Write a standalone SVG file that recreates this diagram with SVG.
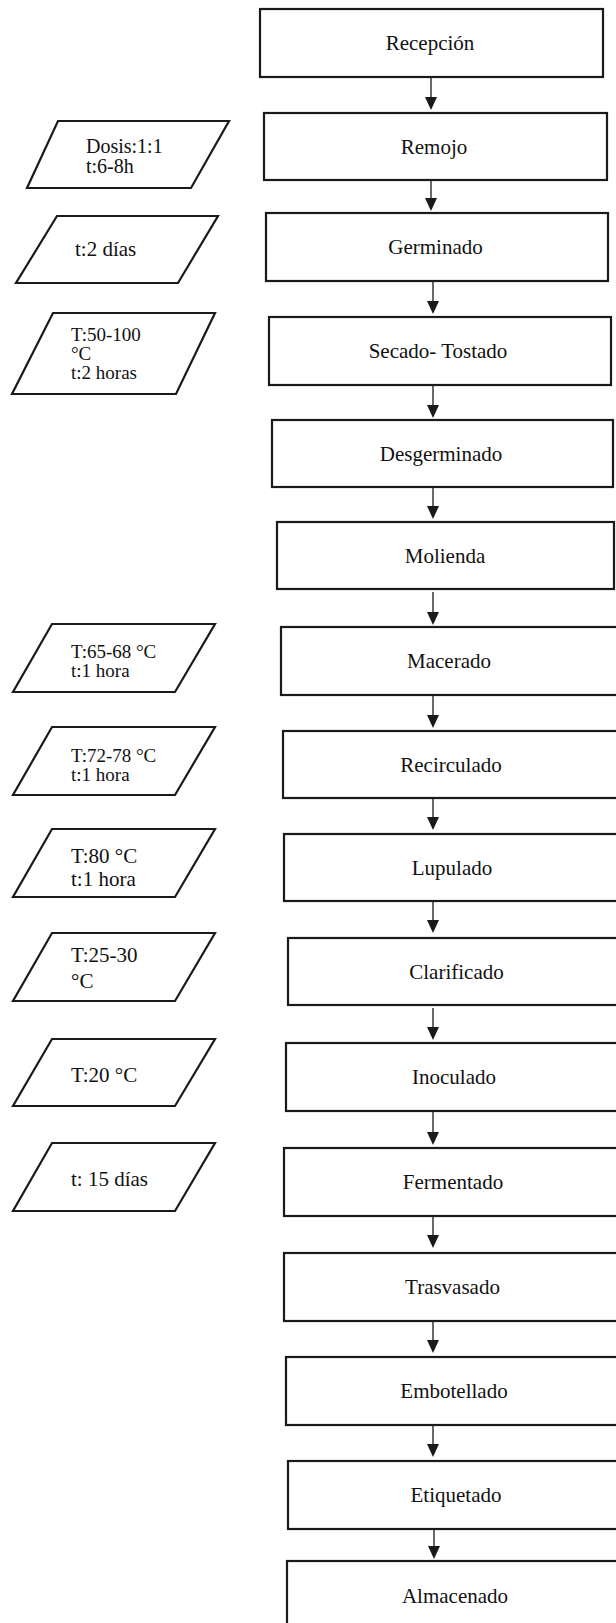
<svg xmlns="http://www.w3.org/2000/svg" width="616" height="1623" viewBox="0 0 616 1623">
<style>
  .box { fill: #ffffff; stroke: #1a1a1a; stroke-width: 2.2; }
  .para { fill: #ffffff; stroke: #1a1a1a; stroke-width: 2.2; stroke-linejoin: miter; }
  .lbl { font-family: "Liberation Serif", "Times New Roman", serif; font-size: 21px; fill: #111111; text-anchor: middle; }
  .side { font-family: "Liberation Serif", "Times New Roman", serif; fill: #111111; }
  .conn { stroke: #1a1a1a; stroke-width: 1.3; fill: none; }
  .head { fill: #1a1a1a; }
</style>
<rect width="616" height="1623" fill="#ffffff"/>

<g id="connectors">
  <line class="conn" x1="431" y1="77" x2="431" y2="98"/><path class="head" d="M425,97 L437,97 L431,110 Z"/>
  <line class="conn" x1="431" y1="180" x2="431" y2="199"/><path class="head" d="M425,198 L437,198 L431,211 Z"/>
  <line class="conn" x1="433" y1="281" x2="433" y2="302"/><path class="head" d="M427,301 L439,301 L433,314 Z"/>
  <line class="conn" x1="433" y1="385" x2="433" y2="406"/><path class="head" d="M427,405 L439,405 L433,418 Z"/>
  <line class="conn" x1="433" y1="487" x2="433" y2="507"/><path class="head" d="M427,506 L439,506 L433,519 Z"/>
  <line class="conn" x1="433" y1="592" x2="433" y2="613"/><path class="head" d="M427,612 L439,612 L433,625 Z"/>
  <line class="conn" x1="433" y1="695" x2="433" y2="716"/><path class="head" d="M427,715 L439,715 L433,728 Z"/>
  <line class="conn" x1="433" y1="798" x2="433" y2="818"/><path class="head" d="M427,817 L439,817 L433,830 Z"/>
  <line class="conn" x1="433" y1="901" x2="433" y2="921"/><path class="head" d="M427,920 L439,920 L433,933 Z"/>
  <line class="conn" x1="433" y1="1008" x2="433" y2="1028"/><path class="head" d="M427,1027 L439,1027 L433,1040 Z"/>
  <line class="conn" x1="433" y1="1111" x2="433" y2="1133"/><path class="head" d="M427,1132 L439,1132 L433,1145 Z"/>
  <line class="conn" x1="433" y1="1216" x2="433" y2="1236"/><path class="head" d="M427,1235 L439,1235 L433,1248 Z"/>
  <line class="conn" x1="433" y1="1321" x2="433" y2="1341"/><path class="head" d="M427,1340 L439,1340 L433,1353 Z"/>
  <line class="conn" x1="433" y1="1425" x2="433" y2="1445"/><path class="head" d="M427,1444 L439,1444 L433,1457 Z"/>
  <line class="conn" x1="434" y1="1529" x2="434" y2="1547"/><path class="head" d="M428,1546 L440,1546 L434,1559 Z"/>
</g>

<g id="recepcion"><rect class="box" x="260" y="9" width="343" height="68"/><text class="lbl" x="430" y="50">Recepción</text></g>
<g id="remojo"><rect class="box" x="264" y="113" width="343" height="67"/><text class="lbl" x="434" y="153.5">Remojo</text></g>
<g id="germinado"><rect class="box" x="266" y="213" width="342" height="68"/><text class="lbl" x="435.5" y="254">Germinado</text></g>
<g id="secado"><rect class="box" x="269" y="317" width="342" height="68"/><text class="lbl" x="438" y="358">Secado- Tostado</text></g>
<g id="desgerminado"><rect class="box" x="272" y="420" width="341" height="67"/><text class="lbl" x="441" y="460.5">Desgerminado</text></g>
<g id="molienda"><rect class="box" x="277" y="522" width="337" height="67"/><text class="lbl" x="445" y="562.5">Molienda</text></g>
<g id="macerado"><rect class="box" x="281" y="627" width="338" height="68"/><text class="lbl" x="449" y="668">Macerado</text></g>
<g id="recirculado"><rect class="box" x="283" y="731" width="338" height="67"/><text class="lbl" x="451" y="771.5">Recirculado</text></g>
<g id="lupulado"><rect class="box" x="284" y="834" width="338" height="67"/><text class="lbl" x="452" y="874.5">Lupulado</text></g>
<g id="clarificado"><rect class="box" x="288" y="938" width="338" height="67"/><text class="lbl" x="456.5" y="978.5">Clarificado</text></g>
<g id="inoculado"><rect class="box" x="286" y="1043" width="338" height="68"/><text class="lbl" x="454" y="1084">Inoculado</text></g>
<g id="fermentado"><rect class="box" x="284" y="1148" width="340" height="68"/><text class="lbl" x="453" y="1189">Fermentado</text></g>
<g id="trasvasado"><rect class="box" x="284" y="1253" width="340" height="68"/><text class="lbl" x="452.5" y="1294">Trasvasado</text></g>
<g id="embotellado"><rect class="box" x="286" y="1357" width="338" height="68"/><text class="lbl" x="454" y="1398">Embotellado</text></g>
<g id="etiquetado"><rect class="box" x="288" y="1461" width="338" height="68"/><text class="lbl" x="456" y="1502">Etiquetado</text></g>
<g id="almacenado"><rect class="box" x="287" y="1561" width="338" height="70"/><text class="lbl" x="455" y="1603">Almacenado</text></g>

<g id="p-dosis"><polygon class="para" points="58,121 229,121 191,188 27,188"/>
  <text class="side" font-size="20" x="86" y="153">Dosis:1:1</text>
  <text class="side" font-size="20" x="86" y="173">t:6-8h</text></g>
<g id="p-germ"><polygon class="para" points="57,216 218,216 178,283 16,283"/>
  <text class="side" font-size="21" x="75" y="256">t:2 días</text></g>
<g id="p-secado"><polygon class="para" points="53,313 215,313 176,394 12,394"/>
  <text class="side" font-size="19" x="71" y="341">T:50-100</text>
  <text class="side" font-size="19" x="71" y="360">°C</text>
  <text class="side" font-size="19" x="71" y="379">t:2 horas</text></g>
<g id="p-macerado"><polygon class="para" points="52,624 215,624 175,692 13,692"/>
  <text class="side" font-size="19" x="71" y="658">T:65-68 °C</text>
  <text class="side" font-size="19" x="71" y="677">t:1 hora</text></g>
<g id="p-recirculado"><polygon class="para" points="52,727 215,727 175,795 13,795"/>
  <text class="side" font-size="19" x="71" y="762">T:72-78 °C</text>
  <text class="side" font-size="19" x="71" y="781">t:1 hora</text></g>
<g id="p-lupulado"><polygon class="para" points="52,829 215,829 175,897 13,897"/>
  <text class="side" font-size="21" x="71" y="863">T:80 °C</text>
  <text class="side" font-size="21" x="71" y="886">t:1 hora</text></g>
<g id="p-clarificado"><polygon class="para" points="52,933 215,933 175,1001 13,1001"/>
  <text class="side" font-size="21" x="71" y="962">T:25-30</text>
  <text class="side" font-size="21" x="71" y="988">°C</text></g>
<g id="p-inoculado"><polygon class="para" points="52,1039 215,1039 175,1106 13,1106"/>
  <text class="side" font-size="21" x="71" y="1082">T:20 °C</text></g>
<g id="p-fermentado"><polygon class="para" points="52,1143 215,1143 175,1211 13,1211"/>
  <text class="side" font-size="21" x="71" y="1186">t: 15 días</text></g>
</svg>
